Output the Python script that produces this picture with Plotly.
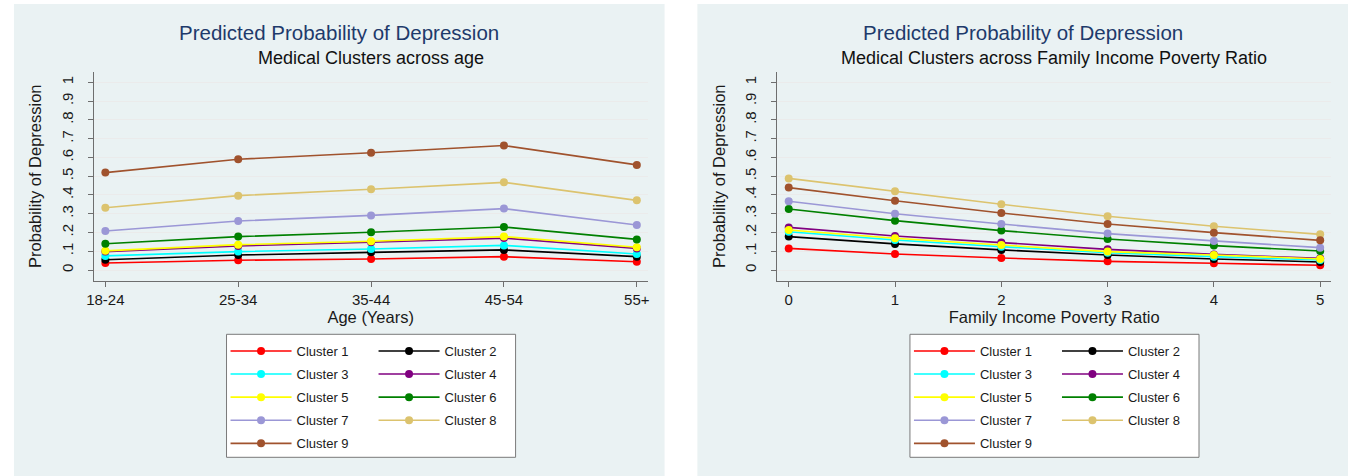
import plotly.graph_objects as go

# ---------------- data ----------------
clusters = ["Cluster 1", "Cluster 2", "Cluster 3", "Cluster 4", "Cluster 5",
            "Cluster 6", "Cluster 7", "Cluster 8", "Cluster 9"]
colors = ["#FF0000", "#000000", "#00FFFF", "#800080", "#FFFF00",
          "#008000", "#9B97D6", "#DCC36E", "#A0522D"]

age_groups = ["18-24", "25-34", "35-44", "45-54", "55+"]
age_c1 = [0.037, 0.052, 0.059, 0.071, 0.044]
age_c2 = [0.055, 0.080, 0.094, 0.107, 0.071]
age_c3 = [0.075, 0.098, 0.112, 0.131, 0.085]
age_c4 = [0.098, 0.128, 0.148, 0.170, 0.115]
age_c5 = [0.102, 0.135, 0.153, 0.178, 0.121]
age_c6 = [0.140, 0.178, 0.201, 0.229, 0.163]
age_c7 = [0.208, 0.261, 0.291, 0.327, 0.240]
age_c8 = [0.332, 0.396, 0.430, 0.467, 0.371]
age_c9 = [0.519, 0.590, 0.625, 0.663, 0.560]
age_values = [age_c1, age_c2, age_c3, age_c4, age_c5, age_c6, age_c7, age_c8, age_c9]

fipr = [0, 1, 2, 3, 4, 5]
fipr_c1 = [0.115, 0.085, 0.064, 0.046, 0.036, 0.025]
fipr_c2 = [0.178, 0.139, 0.107, 0.080, 0.059, 0.043]
fipr_c3 = [0.204, 0.160, 0.124, 0.092, 0.071, 0.053]
fipr_c4 = [0.227, 0.181, 0.146, 0.110, 0.083, 0.062]
fipr_c5 = [0.213, 0.169, 0.133, 0.098, 0.080, 0.059]
fipr_c6 = [0.325, 0.263, 0.210, 0.165, 0.130, 0.101]
fipr_c7 = [0.366, 0.300, 0.245, 0.194, 0.155, 0.119]
fipr_c8 = [0.488, 0.419, 0.350, 0.286, 0.233, 0.190]
fipr_c9 = [0.439, 0.369, 0.304, 0.245, 0.199, 0.158]
fipr_values = [fipr_c1, fipr_c2, fipr_c3, fipr_c4, fipr_c5, fipr_c6, fipr_c7, fipr_c8, fipr_c9]

y_tickvals = [0, 0.1, 0.2, 0.3, 0.4, 0.5, 0.6, 0.7, 0.8, 0.9, 1]
y_ticktext = ["0", ".1", ".2", ".3", ".4", ".5", ".6", ".7", ".8", ".9", "1"]

title_text = "Predicted Probability of Depression"
sub_left = "Medical Clusters across age"
sub_right = "Medical Clusters across Family Income Poverty Ratio"
ytitle = "Probability of Depression"
xtitle_left = "Age (Years)"
xtitle_right = "Family Income Poverty Ratio"

# ---------------- figure ----------------
W, H = 1352, 476
FONT = "Liberation Sans, Arial, sans-serif"
PANEL_BG = "#EAF2F3"
TITLE_COLOR = "#1E3A6B"

def px(x):
    return x / W

def py(y):
    return 1 - y / H

fig = go.Figure()

for i, name in enumerate(clusters):
    leg_l = "legend" if i % 2 == 0 else "legend2"
    leg_r = "legend3" if i % 2 == 0 else "legend4"
    fig.add_trace(go.Scatter(
        x=age_groups, y=age_values[i], name=name, mode="lines+markers",
        line=dict(color=colors[i], width=1.6),
        marker=dict(color=colors[i], size=8),
        xaxis="x", yaxis="y", legend=leg_l, legendgroup="L%d" % i))
    fig.add_trace(go.Scatter(
        x=fipr, y=fipr_values[i], name=name, mode="lines+markers",
        line=dict(color=colors[i], width=1.6),
        marker=dict(color=colors[i], size=8),
        xaxis="x2", yaxis="y2", legend=leg_r, legendgroup="R%d" % i))

# panel offsets (right panel is a copy of left shifted by 688px)
off = 688
plot_l, plot_r = 87.3, 645.0
plot_t, plot_b = 71.7, 280.7

axis_common = dict(
    showline=True, linecolor="#6E6E6E", linewidth=1,
    ticks="outside", ticklen=5, tickcolor="#6E6E6E",
    tickfont=dict(family=FONT, size=15, color="#1A1A1A"),
    zeroline=False, mirror=False,
)

yaxis_common = dict(
    axis_common,
    range=[-0.057, 1.0565], tickvals=y_tickvals, ticktext=y_ticktext,
    tickangle=-90, showgrid=True, gridcolor="#EBEBEB", gridwidth=1,
    ticklabelstandoff=9,
    title=dict(text=ytitle, font=dict(family=FONT, size=16.5, color="#1A1A1A"), standoff=12),
)

fig.update_layout(
    width=W, height=H,
    margin=dict(l=0, r=0, t=0, b=0),
    paper_bgcolor="white", plot_bgcolor="white",
    font=dict(family=FONT, color="#1A1A1A"),
    xaxis=dict(axis_common, domain=[px(plot_l), px(plot_r)], anchor="y",
               type="category", range=[-0.0875, 4.082], showgrid=False,
               title=dict(text=xtitle_left, font=dict(family=FONT, size=16.5, color="#1A1A1A"), standoff=2)),
    yaxis=dict(yaxis_common, domain=[py(plot_b), py(plot_t)], anchor="x"),
    xaxis2=dict(axis_common, domain=[px(plot_l + off), px(plot_r + off)], anchor="y2",
                range=[-0.109, 5.103], tickvals=fipr, showgrid=False,
                title=dict(text=xtitle_right, font=dict(family=FONT, size=16.5, color="#1A1A1A"), standoff=2)),
    yaxis2=dict(yaxis_common, domain=[py(plot_b), py(plot_t)], anchor="x2"),
    showlegend=True,
)

leg_common = dict(
    orientation="v", xanchor="left", yanchor="top", y=py(336),
    bgcolor="rgba(0,0,0,0)", borderwidth=0,
    font=dict(family=FONT, size=13, color="#1A1A1A"),
    itemwidth=61, tracegroupgap=3.2, itemclick="toggle",
)
fig.update_layout(
    legend=dict(leg_common, x=px(220)),
    legend2=dict(leg_common, x=px(369)),
    legend3=dict(leg_common, x=px(220 + off)),
    legend4=dict(leg_common, x=px(369 + off)),
)

shapes = []
for o in (0, off):
    # panel background
    shapes.append(dict(type="rect", xref="paper", yref="paper",
                       x0=px(7 + o), x1=px(662 + o), y0=0, y1=py(4),
                       fillcolor=PANEL_BG, line=dict(width=0), layer="below"))
    # legend frame
    shapes.append(dict(type="rect", xref="paper", yref="paper",
                       x0=px(221 + o), x1=px(512 + o), y0=py(457.3), y1=py(334.3),
                       fillcolor="white", line=dict(color="#7A7A7A", width=1), layer="below"))
fig.update_layout(shapes=shapes)

annotations = []
for o, sub in ((0, sub_left), (off, sub_right)):
    annotations.append(dict(text=title_text, xref="paper", yref="paper",
                            x=px(334.5 + o), y=py(33), xanchor="center", yanchor="middle",
                            showarrow=False, font=dict(family=FONT, size=20.5, color=TITLE_COLOR)))
    annotations.append(dict(text=sub, xref="paper", yref="paper",
                            x=px(366 + o), y=py(58), xanchor="center", yanchor="middle",
                            showarrow=False, font=dict(family=FONT, size=18, color="#111111")))
fig.update_layout(annotations=annotations)

fig.write_html("out.html",
               config={"displayModeBar": False},
               post_script="document.body.style.margin='0';document.body.style.overflow='hidden';")
